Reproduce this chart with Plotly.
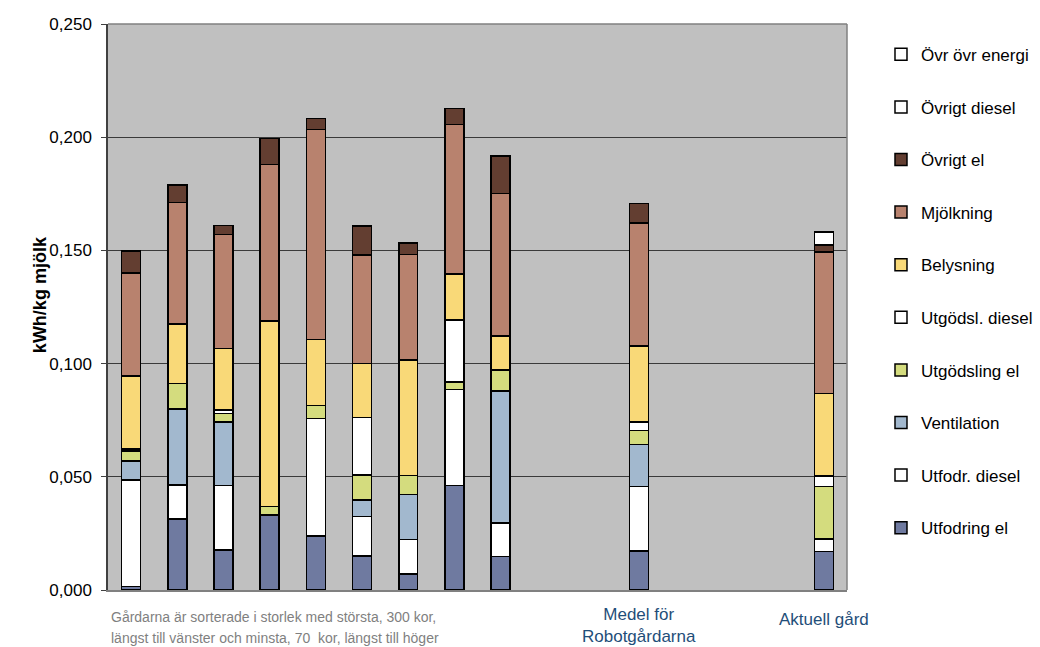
import plotly.graph_objects as go

# Energy use per kg milk, split by activity (kWh/kg mjölk)
farms = ["Gård 1", "Gård 2", "Gård 3", "Gård 4", "Gård 5", "Gård 6", "Gård 7", "Gård 8", "Gård 9"]
summary = ["Medel för<br>Robotgårdarna", "Aktuell gård"]

utfodring_el   = [0.0015, 0.0313, 0.0177, 0.0331, 0.0238, 0.0150, 0.0071, 0.0461, 0.0147, 0.0173, 0.0170]
utfodr_diesel  = [0.0471, 0.0151, 0.0284, 0.0,    0.0520, 0.0174, 0.0153, 0.0425, 0.0150, 0.0284, 0.0056]
ventilation    = [0.0084, 0.0335, 0.0282, 0.0,    0.0,    0.0073, 0.0198, 0.0,    0.0583, 0.0185, 0.0]
utgodsling_el  = [0.0044, 0.0113, 0.0037, 0.0037, 0.0057, 0.0111, 0.0083, 0.0032, 0.0091, 0.0062, 0.0231]
utgodsl_diesel = [0.0009, 0.0,    0.0015, 0.0,    0.0,    0.0253, 0.0,    0.0274, 0.0,    0.0038, 0.0046]
belysning      = [0.0322, 0.0262, 0.0272, 0.0821, 0.0292, 0.0240, 0.0510, 0.0203, 0.0152, 0.0335, 0.0364]
mjolkning      = [0.0455, 0.0538, 0.0503, 0.0690, 0.0927, 0.0479, 0.0468, 0.0662, 0.0628, 0.0544, 0.0627]
ovrigt_el      = [0.0098, 0.0076, 0.0041, 0.0115, 0.0048, 0.0127, 0.0050, 0.0070, 0.0165, 0.0087, 0.0030]
ovrigt_diesel  = [0.0,    0.0,    0.0,    0.0,    0.0,    0.0,    0.0,    0.0,    0.0,    0.0,    0.0058]
ovr_ovr_energi = [0.0,    0.0,    0.0,    0.0,    0.0,    0.0,    0.0,    0.0,    0.0,    0.0,    0.0]

series = [
    ("Utfodring el", utfodring_el, "#6F7AA0"),
    ("Utfodr. diesel", utfodr_diesel, "#FFFFFF"),
    ("Ventilation", ventilation, "#A2B8CE"),
    ("Utgödsling el", utgodsling_el, "#D4DC7E"),
    ("Utgödsl. diesel", utgodsl_diesel, "#FFFFFF"),
    ("Belysning", belysning, "#F9D978"),
    ("Mjölkning", mjolkning, "#B8826E"),
    ("Övrigt el", ovrigt_el, "#633E31"),
    ("Övrigt diesel", ovrigt_diesel, "#FFFFFF"),
    ("Övr övr energi", ovr_ovr_energi, "#FFFFFF"),
]

# Slot layout: farms side by side, then a gap, the average, a wider gap, the current farm
slots = list(range(len(farms))) + [len(farms) + 2, len(farms) + 6]
n_slots = slots[-1] + 1

FONT = "Liberation Sans, Arial, sans-serif"

fig = go.Figure()
for i, (name, vals, color) in enumerate(series):
    fig.add_trace(go.Bar(
        x=slots, y=vals, name=name, legendgroup=name,
        legendrank=100 - i,  # top of the stack listed first
        width=0.41,
        marker=dict(color=color, line=dict(color="#000000", width=1.5)),
    ))

fig.update_layout(
    barmode="stack",
    width=1040, height=647,
    margin=dict(l=108, r=193, t=24, b=57, autoexpand=False),
    paper_bgcolor="#FFFFFF",
    plot_bgcolor="#C0C0C0",
    separators=", ",
    font=dict(family=FONT, color="#000000"),
    showlegend=True,
    legend=dict(
        traceorder="grouped",
        x=1.046, xanchor="left",
        y=0.9775, yanchor="top",
        font=dict(size=17, family=FONT, color="#000000"),
        tracegroupgap=27.5,
        itemwidth=30,
        bgcolor="rgba(0,0,0,0)",
    ),
    xaxis=dict(
        range=[-0.5, n_slots - 0.5],
        showticklabels=False,
        automargin=False,
        ticks="", showgrid=False, zeroline=False,
        showline=True, linecolor="#808080", linewidth=1.5,
    ),
    yaxis=dict(
        range=[0, 0.25],
        tick0=0, dtick=0.05,
        tickformat=".3f",
        tickfont=dict(size=17, color="#000000", family=FONT),
        ticklabelstandoff=6,
        automargin=False,
        ticks="outside", ticklen=5, tickcolor="#404040",
        showgrid=True, gridcolor="#3A3A3A", gridwidth=1,
        zeroline=False,
        showline=True, linecolor="#404040", linewidth=1.5,
    ),
)

# Y-axis title
fig.add_annotation(
    text="<b>kWh/kg mjölk</b>", textangle=-90,
    xref="paper", yref="paper", x=-0.092, y=0.521,
    xanchor="center", yanchor="middle", showarrow=False,
    font=dict(size=18, family=FONT, color="#000000"),
)

# Category labels for the summary bars
summary_offsets = [-0.023, -0.032]
for slot, label, dy in zip(slots[len(farms):], summary, summary_offsets):
    fig.add_annotation(
        text=label, xref="x", yref="paper", x=slot, y=dy,
        xanchor="center", yanchor="top", showarrow=False,
        font=dict(size=17, color="#1F4E79", family=FONT),
    )

# Plot-area frame on top and right
fig.add_shape(type="line", xref="paper", yref="paper", x0=0, x1=1, y0=1, y1=1,
              line=dict(color="#808080", width=1.5))
fig.add_shape(type="line", xref="paper", yref="paper", x0=1, x1=1, y0=0, y1=1,
              line=dict(color="#808080", width=1.5))

# Note under the farm bars
note_lines = [
    "Gårdarna är sorterade i storlek med största, 300 kor,",
    "längst till vänster och minsta, 70  kor, längst till höger",
]
for i, line in enumerate(note_lines):
    fig.add_annotation(
        text=line, xref="paper", yref="paper",
        x=0.001, xanchor="left",
        y=-0.048 - i * 0.037, yanchor="middle",
        showarrow=False,
        font=dict(size=14, color="#7F7F7F", family=FONT),
    )

fig.write_html("out.html")
